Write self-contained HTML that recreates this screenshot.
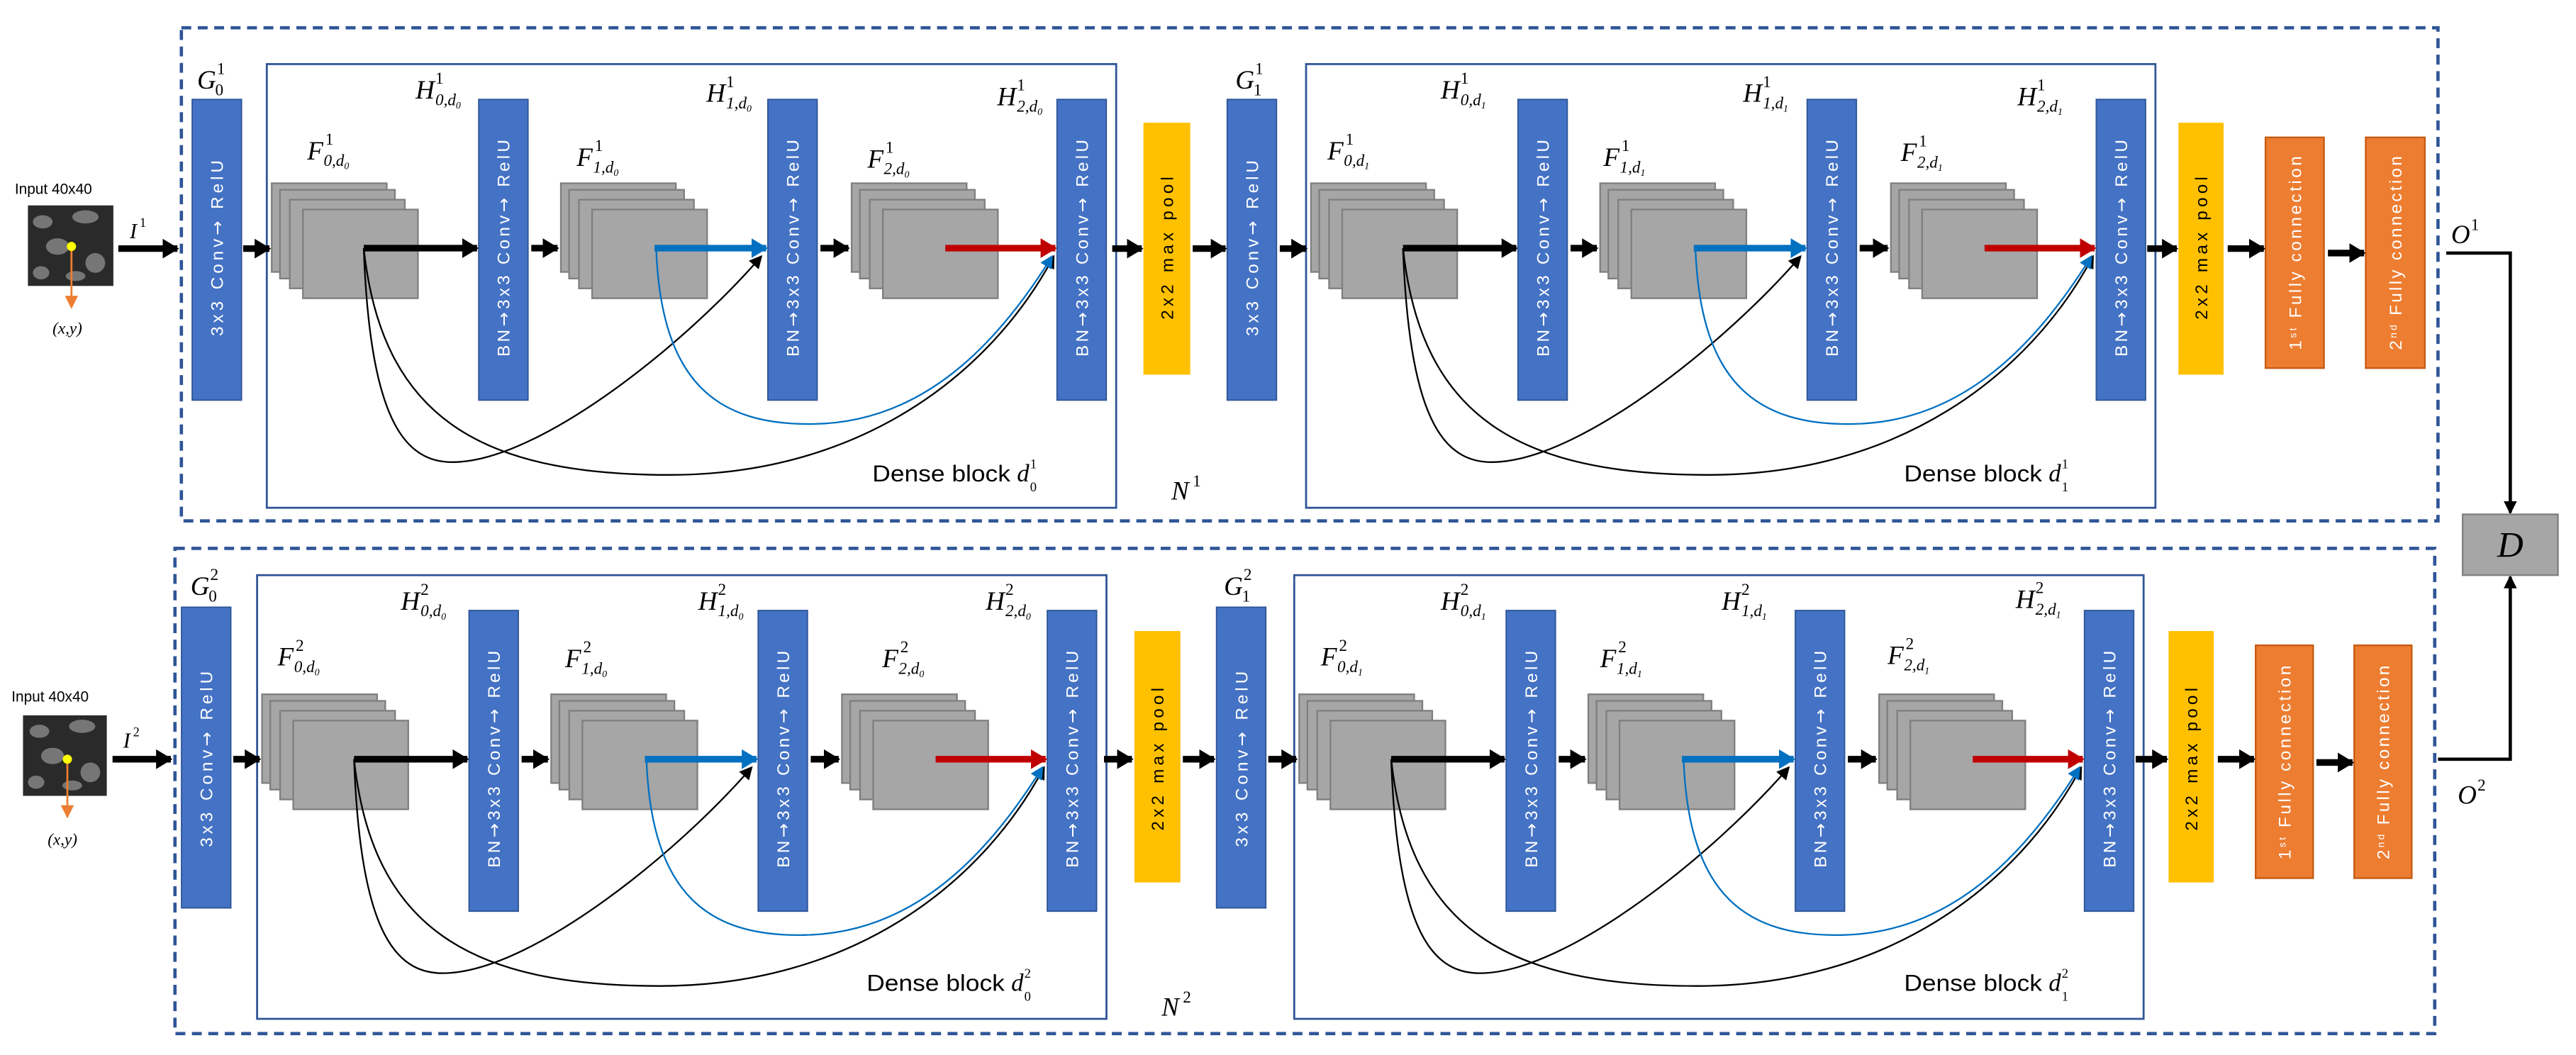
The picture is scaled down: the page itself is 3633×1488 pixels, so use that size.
<!DOCTYPE html>
<html><head><meta charset="utf-8"><style>
html,body{margin:0;padding:0;background:#fff;}
svg{display:block;}
.bt{font-family:"Liberation Sans",sans-serif;font-size:10.5px;fill:#fff;}
.pt{font-family:"Liberation Sans",sans-serif;font-size:10.5px;fill:#000;}
.ar{font-family:"DejaVu Sans",sans-serif;}
.L{font-family:"Liberation Serif",serif;font-style:italic;font-size:16px;fill:#000;}
.S{font-family:"Liberation Serif",serif;font-size:10px;fill:#000;}
.Si{font-family:"Liberation Serif",serif;font-style:italic;font-size:10px;fill:#000;}
.db{font-family:"Liberation Sans",sans-serif;font-size:14px;fill:#000;}
.in{font-family:"Liberation Sans",sans-serif;font-size:9px;fill:#000;}
</style></head><body>
<svg width="3633" height="1488" viewBox="0 0 1568 642" preserveAspectRatio="none" xmlns="http://www.w3.org/2000/svg">
<defs>
<marker id="ak" markerUnits="userSpaceOnUse" markerWidth="10" markerHeight="12" refX="9" refY="6" orient="auto"><path d="M0,0 L10,6 L0,12 Z" fill="#000"/></marker>
<marker id="ab" markerUnits="userSpaceOnUse" markerWidth="10" markerHeight="12" refX="9" refY="6" orient="auto"><path d="M0,0 L10,6 L0,12 Z" fill="#0070c0"/></marker>
<marker id="ar" markerUnits="userSpaceOnUse" markerWidth="10" markerHeight="12" refX="9" refY="6" orient="auto"><path d="M0,0 L10,6 L0,12 Z" fill="#c00000"/></marker>
<marker id="tk" markerUnits="userSpaceOnUse" markerWidth="8" markerHeight="8" refX="7" refY="4" orient="auto"><path d="M0,0 L8,4 L0,8 Z" fill="#000"/></marker>
<marker id="tb" markerUnits="userSpaceOnUse" markerWidth="8" markerHeight="8" refX="7" refY="4" orient="auto"><path d="M0,0 L8,4 L0,8 Z" fill="#0070c0"/></marker>
<marker id="to" markerUnits="userSpaceOnUse" markerWidth="8" markerHeight="8" refX="7" refY="4" orient="auto"><path d="M0,0 L8,4 L0,8 Z" fill="#ed7d31"/></marker>
<g id="stk">
<rect x="0" y="0" width="70" height="54" fill="#a6a6a6" stroke="#7f7f7f" stroke-width="1"/>
<rect x="5" y="4" width="70" height="54" fill="#a6a6a6" stroke="#7f7f7f" stroke-width="1"/>
<rect x="11" y="10" width="70" height="54" fill="#a6a6a6" stroke="#7f7f7f" stroke-width="1"/>
<rect x="19" y="16" width="70" height="54" fill="#a6a6a6" stroke="#7f7f7f" stroke-width="1"/>
</g>
<g id="blk">
<rect x="0" y="0" width="517" height="270" fill="none" stroke="#2f5597" stroke-width="1.2"/>
<use href="#stk" x="3" y="72.5"/>
<use href="#stk" x="179" y="72.5"/>
<use href="#stk" x="356" y="72.5"/>
<rect x="129" y="21.5" width="30" height="183" fill="#4472c4" stroke="#2f5597" stroke-width="0.8"/>
<rect x="305" y="21.5" width="30" height="183" fill="#4472c4" stroke="#2f5597" stroke-width="0.8"/>
<rect x="481" y="21.5" width="30" height="183" fill="#4472c4" stroke="#2f5597" stroke-width="0.8"/>
<line x1="59" y1="112" x2="128" y2="112" stroke="#000" stroke-width="4" marker-end="url(#ak)"/>
<line x1="161" y1="112" x2="177" y2="112" stroke="#000" stroke-width="4" marker-end="url(#ak)"/>
<line x1="236" y1="112" x2="304" y2="112" stroke="#0070c0" stroke-width="4" marker-end="url(#ab)"/>
<line x1="337" y1="112" x2="354" y2="112" stroke="#000" stroke-width="4" marker-end="url(#ak)"/>
<line x1="413" y1="112" x2="480" y2="112" stroke="#c00000" stroke-width="4" marker-end="url(#ar)"/>
<path d="M59,112 C63,220 85,245 118,242 C170,238 255,170 301,117" fill="none" stroke="#000" stroke-width="1" marker-end="url(#tk)"/>
<path d="M59,112 C70,215 130,250 245,250 C360,250 440,190 479,117" fill="none" stroke="#000" stroke-width="1" marker-end="url(#tk)"/>
<path d="M237,112 C240,195 275,220 333,219 C400,218 445,170 478,117" fill="none" stroke="#0070c0" stroke-width="1" marker-end="url(#tb)"/>
</g>
</defs>

<rect x="110.4" y="16.9" width="1373.6" height="300.1" fill="none" stroke="#2f5597" stroke-width="2" stroke-dasharray="6 4"/>
<rect x="106.5" y="333.7" width="1375.5" height="295.3" fill="none" stroke="#2f5597" stroke-width="2" stroke-dasharray="6 4"/>

<use href="#blk" transform="translate(162.4,39)"/>
<use href="#blk" transform="translate(795,39)"/>
<use href="#blk" transform="translate(156.5,350)"/>
<use href="#blk" transform="translate(787.8,350)"/>

<rect x="117" y="60.5" width="30" height="183" fill="#4472c4" stroke="#2f5597" stroke-width="0.8"/>
<rect x="747" y="60.5" width="30" height="183" fill="#4472c4" stroke="#2f5597" stroke-width="0.8"/>
<rect x="696" y="74.7" width="28.5" height="153.3" fill="#ffc000"/>
<rect x="1326" y="74.7" width="27.5" height="153.3" fill="#ffc000"/>
<rect x="1379" y="83.6" width="35.6" height="140.4" fill="#ed7d31" stroke="#c55a11" stroke-width="1"/>
<rect x="1440" y="83.6" width="36" height="140.4" fill="#ed7d31" stroke="#c55a11" stroke-width="1"/>
<rect x="110.5" y="369.5" width="30" height="183" fill="#4472c4" stroke="#2f5597" stroke-width="0.8"/>
<rect x="740.5" y="369.5" width="30" height="183" fill="#4472c4" stroke="#2f5597" stroke-width="0.8"/>
<rect x="690.5" y="384" width="28" height="153" fill="#ffc000"/>
<rect x="1320" y="384" width="27.5" height="153" fill="#ffc000"/>
<rect x="1373" y="392.7" width="35" height="141.7" fill="#ed7d31" stroke="#c55a11" stroke-width="1"/>
<rect x="1433" y="392.7" width="35" height="141.7" fill="#ed7d31" stroke="#c55a11" stroke-width="1"/>

<g stroke="#000" stroke-width="4" marker-end="url(#ak)">
<line x1="72" y1="151.3" x2="108" y2="151.3"/>
<line x1="148" y1="151.3" x2="164" y2="151.3"/>
<line x1="677" y1="151.3" x2="695" y2="151.3"/>
<line x1="726" y1="151.3" x2="746" y2="151.3"/>
<line x1="779" y1="151.3" x2="795" y2="151.3"/>
<line x1="1307" y1="151.3" x2="1325" y2="151.3"/>
<line x1="1356" y1="151.3" x2="1378" y2="151.3"/>
<line x1="1417" y1="154" x2="1439" y2="154"/>
<line x1="68.5" y1="462" x2="104" y2="462"/>
<line x1="142" y1="462" x2="158" y2="462"/>
<line x1="672" y1="462" x2="689" y2="462"/>
<line x1="720" y1="462" x2="739" y2="462"/>
<line x1="772" y1="462" x2="789" y2="462"/>
<line x1="1300" y1="462" x2="1319" y2="462"/>
<line x1="1350" y1="462" x2="1372" y2="462"/>
<line x1="1410" y1="464" x2="1432" y2="464"/>
</g>

<polyline points="1489,154 1528,154 1528,312" fill="none" stroke="#000" stroke-width="2" marker-end="url(#tk)"/>
<polyline points="1484,462 1528,462 1528,351" fill="none" stroke="#000" stroke-width="2" marker-end="url(#tk)"/>
<rect x="1499" y="313" width="58" height="37" fill="#a6a6a6" stroke="#7f7f7f" stroke-width="1"/>
<text x="1528" y="339" text-anchor="middle" class="L" style="font-size:22px">D</text>
<text x="1492" y="148" class="L">O</text><text x="1504" y="140" class="S">1</text>
<text x="1496" y="489" class="L">O</text><text x="1508" y="481" class="S">2</text>
<text x="713" y="304" class="L">N</text><text x="726" y="296" class="S">1</text>
<text x="707" y="618" class="L">N</text><text x="720" y="610" class="S">2</text>

<rect x="17" y="125" width="52" height="49" fill="#2a2a2a"/>
<g fill="#8a8a8a" opacity="0.8">
<ellipse cx="26" cy="135" rx="6" ry="4"/><ellipse cx="52" cy="132" rx="8" ry="4"/><ellipse cx="35" cy="150" rx="7" ry="5"/><ellipse cx="58" cy="160" rx="6" ry="6"/><ellipse cx="25" cy="166" rx="5" ry="4"/><ellipse cx="46" cy="168" rx="6" ry="3"/>
</g>
<line x1="43.5" y1="150" x2="43.5" y2="187" stroke="#ed7d31" stroke-width="1.2" marker-end="url(#to)"/>
<circle cx="43.5" cy="150" r="2.8" fill="#ffff00"/>
<rect x="14" y="435.3" width="51" height="49" fill="#2a2a2a"/>
<g fill="#8a8a8a" opacity="0.8">
<ellipse cx="24" cy="445" rx="6" ry="4"/><ellipse cx="50" cy="442" rx="8" ry="4"/><ellipse cx="32" cy="460" rx="7" ry="5"/><ellipse cx="55" cy="470" rx="6" ry="6"/><ellipse cx="22" cy="476" rx="5" ry="4"/><ellipse cx="44" cy="478" rx="6" ry="3"/>
</g>
<line x1="41" y1="462" x2="41" y2="497" stroke="#ed7d31" stroke-width="1.2" marker-end="url(#to)"/>
<circle cx="41" cy="462" r="2.8" fill="#ffff00"/>
<text x="9" y="118" class="in">Input 40x40</text>
<text x="7" y="427" class="in">Input 40x40</text>
<text x="32" y="203" class="Si">(x,y)</text>
<text x="29" y="514" class="Si">(x,y)</text>
<text x="79" y="145" class="L" style="font-size:13px">I</text><text x="85" y="138" class="S" style="font-size:8px">1</text>
<text x="75" y="455" class="L" style="font-size:13px">I</text><text x="81" y="448" class="S" style="font-size:8px">2</text>

<g class="bt">
<text transform="translate(132,151) rotate(-90)" text-anchor="middle" dy="3.8" textLength="107" lengthAdjust="spacing">3x3 Conv<tspan class="ar">→</tspan> RelU</text>
<text transform="translate(762,151) rotate(-90)" text-anchor="middle" dy="3.8" textLength="107" lengthAdjust="spacing">3x3 Conv<tspan class="ar">→</tspan> RelU</text>
<text transform="translate(125.5,462) rotate(-90)" text-anchor="middle" dy="3.8" textLength="107" lengthAdjust="spacing">3x3 Conv<tspan class="ar">→</tspan> RelU</text>
<text transform="translate(755.5,462) rotate(-90)" text-anchor="middle" dy="3.8" textLength="107" lengthAdjust="spacing">3x3 Conv<tspan class="ar">→</tspan> RelU</text>

<text transform="translate(306.4,151) rotate(-90)" text-anchor="middle" dy="3.8" textLength="132" lengthAdjust="spacing">BN<tspan class="ar">→</tspan>3x3 Conv<tspan class="ar">→</tspan> RelU</text>
<text transform="translate(482.4,151) rotate(-90)" text-anchor="middle" dy="3.8" textLength="132" lengthAdjust="spacing">BN<tspan class="ar">→</tspan>3x3 Conv<tspan class="ar">→</tspan> RelU</text>
<text transform="translate(658.4,151) rotate(-90)" text-anchor="middle" dy="3.8" textLength="132" lengthAdjust="spacing">BN<tspan class="ar">→</tspan>3x3 Conv<tspan class="ar">→</tspan> RelU</text>
<text transform="translate(939,151) rotate(-90)" text-anchor="middle" dy="3.8" textLength="132" lengthAdjust="spacing">BN<tspan class="ar">→</tspan>3x3 Conv<tspan class="ar">→</tspan> RelU</text>
<text transform="translate(1115,151) rotate(-90)" text-anchor="middle" dy="3.8" textLength="132" lengthAdjust="spacing">BN<tspan class="ar">→</tspan>3x3 Conv<tspan class="ar">→</tspan> RelU</text>
<text transform="translate(1291,151) rotate(-90)" text-anchor="middle" dy="3.8" textLength="132" lengthAdjust="spacing">BN<tspan class="ar">→</tspan>3x3 Conv<tspan class="ar">→</tspan> RelU</text>

<text transform="translate(300.5,462) rotate(-90)" text-anchor="middle" dy="3.8" textLength="132" lengthAdjust="spacing">BN<tspan class="ar">→</tspan>3x3 Conv<tspan class="ar">→</tspan> RelU</text>
<text transform="translate(476.5,462) rotate(-90)" text-anchor="middle" dy="3.8" textLength="132" lengthAdjust="spacing">BN<tspan class="ar">→</tspan>3x3 Conv<tspan class="ar">→</tspan> RelU</text>
<text transform="translate(652.5,462) rotate(-90)" text-anchor="middle" dy="3.8" textLength="132" lengthAdjust="spacing">BN<tspan class="ar">→</tspan>3x3 Conv<tspan class="ar">→</tspan> RelU</text>
<text transform="translate(931.8,462) rotate(-90)" text-anchor="middle" dy="3.8" textLength="132" lengthAdjust="spacing">BN<tspan class="ar">→</tspan>3x3 Conv<tspan class="ar">→</tspan> RelU</text>
<text transform="translate(1107.8,462) rotate(-90)" text-anchor="middle" dy="3.8" textLength="132" lengthAdjust="spacing">BN<tspan class="ar">→</tspan>3x3 Conv<tspan class="ar">→</tspan> RelU</text>
<text transform="translate(1283.8,462) rotate(-90)" text-anchor="middle" dy="3.8" textLength="132" lengthAdjust="spacing">BN<tspan class="ar">→</tspan>3x3 Conv<tspan class="ar">→</tspan> RelU</text>

<text transform="translate(1397,154) rotate(-90)" text-anchor="middle" dy="3.8" textLength="118" lengthAdjust="spacing">1<tspan font-size="6" dy="-3">st</tspan><tspan dy="3"> Fully connection</tspan></text>
<text transform="translate(1458,154) rotate(-90)" text-anchor="middle" dy="3.8" textLength="118" lengthAdjust="spacing">2<tspan font-size="6" dy="-3">nd</tspan><tspan dy="3"> Fully connection</tspan></text>
<text transform="translate(1390.5,464) rotate(-90)" text-anchor="middle" dy="3.8" textLength="118" lengthAdjust="spacing">1<tspan font-size="6" dy="-3">st</tspan><tspan dy="3"> Fully connection</tspan></text>
<text transform="translate(1450.5,464) rotate(-90)" text-anchor="middle" dy="3.8" textLength="118" lengthAdjust="spacing">2<tspan font-size="6" dy="-3">nd</tspan><tspan dy="3"> Fully connection</tspan></text>
</g>
<g class="pt">
<text transform="translate(710.2,151) rotate(-90)" text-anchor="middle" dy="3.8" textLength="87" lengthAdjust="spacing">2x2 max pool</text>
<text transform="translate(1339.8,151) rotate(-90)" text-anchor="middle" dy="3.8" textLength="87" lengthAdjust="spacing">2x2 max pool</text>
<text transform="translate(704.5,462) rotate(-90)" text-anchor="middle" dy="3.8" textLength="87" lengthAdjust="spacing">2x2 max pool</text>
<text transform="translate(1333.8,462) rotate(-90)" text-anchor="middle" dy="3.8" textLength="87" lengthAdjust="spacing">2x2 max pool</text>
</g>

<text x="531" y="293" class="db" textLength="84" lengthAdjust="spacingAndGlyphs">Dense block</text><text x="619" y="293" class="L" style="font-size:15px">d</text><text x="627" y="299" class="S" style="font-size:8px">0</text><text x="627" y="285" class="S" style="font-size:8px">1</text>
<text x="1159" y="293" class="db" textLength="84" lengthAdjust="spacingAndGlyphs">Dense block</text><text x="1247" y="293" class="L" style="font-size:15px">d</text><text x="1255" y="299" class="S" style="font-size:8px">1</text><text x="1255" y="285" class="S" style="font-size:8px">1</text>
<text x="527.5" y="603" class="db" textLength="84" lengthAdjust="spacingAndGlyphs">Dense block</text><text x="615.5" y="603" class="L" style="font-size:15px">d</text><text x="623.5" y="609" class="S" style="font-size:8px">0</text><text x="623.5" y="595" class="S" style="font-size:8px">2</text>
<text x="1159" y="603" class="db" textLength="84" lengthAdjust="spacingAndGlyphs">Dense block</text><text x="1247" y="603" class="L" style="font-size:15px">d</text><text x="1255" y="609" class="S" style="font-size:8px">1</text><text x="1255" y="595" class="S" style="font-size:8px">2</text>

<text x="120" y="54" class="L">G</text><text x="132" y="45" class="S">1</text><text x="131" y="58" class="S">0</text>
<text x="752" y="54" class="L">G</text><text x="764" y="45" class="S">1</text><text x="763" y="58" class="S">1</text>

<text x="253" y="60" class="L">H</text><text x="265" y="51" class="S">1</text><text x="265" y="64" class="Si">0,d<tspan font-size="6" dy="2">0</tspan></text>
<text x="430" y="62" class="L">H</text><text x="442" y="53" class="S">1</text><text x="442" y="66" class="Si">1,d<tspan font-size="6" dy="2">0</tspan></text>
<text x="607" y="64" class="L">H</text><text x="619" y="55" class="S">1</text><text x="619" y="68" class="Si">2,d<tspan font-size="6" dy="2">0</tspan></text>
<text x="187" y="97" class="L">F</text><text x="198" y="88" class="S">1</text><text x="197" y="101" class="Si">0,d<tspan font-size="6" dy="2">0</tspan></text>
<text x="351" y="101" class="L">F</text><text x="362" y="92" class="S">1</text><text x="361" y="105" class="Si">1,d<tspan font-size="6" dy="2">0</tspan></text>
<text x="528" y="102" class="L">F</text><text x="539" y="93" class="S">1</text><text x="538" y="106" class="Si">2,d<tspan font-size="6" dy="2">0</tspan></text>

<text x="877" y="60" class="L">H</text><text x="889" y="51" class="S">1</text><text x="889" y="64" class="Si">0,d<tspan font-size="6" dy="2">1</tspan></text>
<text x="1061" y="62" class="L">H</text><text x="1073" y="53" class="S">1</text><text x="1073" y="66" class="Si">1,d<tspan font-size="6" dy="2">1</tspan></text>
<text x="1228" y="64" class="L">H</text><text x="1240" y="55" class="S">1</text><text x="1240" y="68" class="Si">2,d<tspan font-size="6" dy="2">1</tspan></text>
<text x="808" y="97" class="L">F</text><text x="819" y="88" class="S">1</text><text x="818" y="101" class="Si">0,d<tspan font-size="6" dy="2">1</tspan></text>
<text x="976" y="101" class="L">F</text><text x="987" y="92" class="S">1</text><text x="986" y="105" class="Si">1,d<tspan font-size="6" dy="2">1</tspan></text>
<text x="1157" y="98" class="L">F</text><text x="1168" y="89" class="S">1</text><text x="1167" y="102" class="Si">2,d<tspan font-size="6" dy="2">1</tspan></text>

<text x="116" y="362" class="L">G</text><text x="128" y="353" class="S">2</text><text x="127" y="366" class="S">0</text>
<text x="745" y="362" class="L">G</text><text x="757" y="353" class="S">2</text><text x="756" y="366" class="S">1</text>

<text x="244" y="371" class="L">H</text><text x="256" y="362" class="S">2</text><text x="256" y="375" class="Si">0,d<tspan font-size="6" dy="2">0</tspan></text>
<text x="425" y="371" class="L">H</text><text x="437" y="362" class="S">2</text><text x="437" y="375" class="Si">1,d<tspan font-size="6" dy="2">0</tspan></text>
<text x="600" y="371" class="L">H</text><text x="612" y="362" class="S">2</text><text x="612" y="375" class="Si">2,d<tspan font-size="6" dy="2">0</tspan></text>
<text x="169" y="405" class="L">F</text><text x="180" y="396" class="S">2</text><text x="179" y="409" class="Si">0,d<tspan font-size="6" dy="2">0</tspan></text>
<text x="344" y="406" class="L">F</text><text x="355" y="397" class="S">2</text><text x="354" y="410" class="Si">1,d<tspan font-size="6" dy="2">0</tspan></text>
<text x="537" y="406" class="L">F</text><text x="548" y="397" class="S">2</text><text x="547" y="410" class="Si">2,d<tspan font-size="6" dy="2">0</tspan></text>

<text x="877" y="371" class="L">H</text><text x="889" y="362" class="S">2</text><text x="889" y="375" class="Si">0,d<tspan font-size="6" dy="2">1</tspan></text>
<text x="1048" y="371" class="L">H</text><text x="1060" y="362" class="S">2</text><text x="1060" y="375" class="Si">1,d<tspan font-size="6" dy="2">1</tspan></text>
<text x="1227" y="370" class="L">H</text><text x="1239" y="361" class="S">2</text><text x="1239" y="374" class="Si">2,d<tspan font-size="6" dy="2">1</tspan></text>
<text x="804" y="405" class="L">F</text><text x="815" y="396" class="S">2</text><text x="814" y="409" class="Si">0,d<tspan font-size="6" dy="2">1</tspan></text>
<text x="974" y="406" class="L">F</text><text x="985" y="397" class="S">2</text><text x="984" y="410" class="Si">1,d<tspan font-size="6" dy="2">1</tspan></text>
<text x="1149" y="404" class="L">F</text><text x="1160" y="395" class="S">2</text><text x="1159" y="408" class="Si">2,d<tspan font-size="6" dy="2">1</tspan></text>
</svg>
</body></html>
